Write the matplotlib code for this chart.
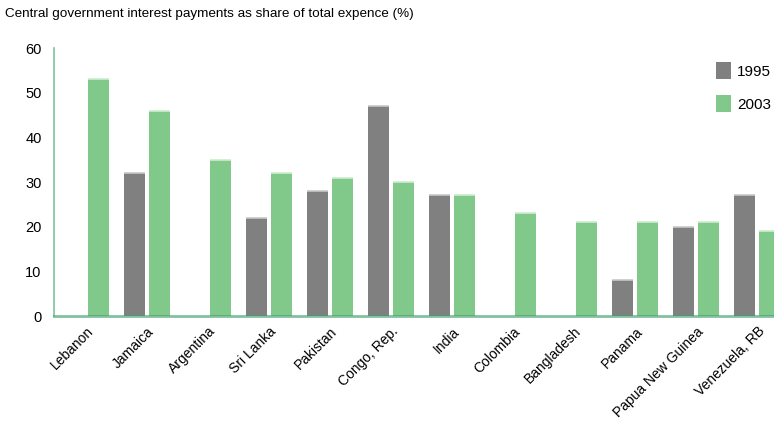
import numpy as np
import matplotlib.pyplot as plt
from matplotlib.patches import Patch

countries = ["Lebanon", "Jamaica", "Argentina", "Sri Lanka", "Pakistan", "Congo, Rep.",
             "India", "Colombia", "Bangladesh", "Panama", "Papua New Guinea", "Venezuela, RB"]
# np.nan where there is no 1995 bar
values_1995 = [np.nan, 32, np.nan, 22, 28, 47, 27, np.nan, np.nan, 8, 20, 27]
values_2003 = [53, 46, 35, 32, 31, 30, 27, 23, 21, 21, 21, 19]
y_ticks = [0, 10, 20, 30, 40, 50, 60]

grey = "#808080"
green = "#80c98b"

plt.rcParams['font.family'] = ['Liberation Sans', 'DejaVu Sans']

fig = plt.figure(figsize=(7.74, 4.28), dpi=100)
# axes runs a little past the right edge of the figure, as in the reference
ax = fig.add_axes([54 / 774, 112 / 428, 740 / 774, 268 / 428])

x = np.arange(len(countries))
w = 0.345
off = 0.205
v95 = np.array(values_1995, dtype=float)
v03 = np.array(values_2003, dtype=float)

ax.bar(x - off, np.nan_to_num(v95), width=w, color=grey, zorder=2)
ax.bar(x + off, v03, width=w, color=green, zorder=2)

# thin light cap on top of every bar
has95 = ~np.isnan(v95)
ax.hlines(v95[has95], x[has95] - off - w / 2, x[has95] - off + w / 2,
          color="#c8c8c8", linewidth=1.2, zorder=3)
ax.hlines(v03, x + off - w / 2, x + off + w / 2,
          color="#cdeccf", linewidth=1.2, zorder=3)

ax.set_xlim(-0.525, 11.6)
ax.set_ylim(0, 60)
ax.set_yticks(y_ticks)
ax.set_yticklabels([str(t) for t in y_ticks], fontsize=10.5)
ax.set_xticks(x)
ax.set_xticklabels(countries, rotation=45, ha="right", rotation_mode="anchor", fontsize=10)
ax.tick_params(axis="both", length=0)
ax.tick_params(axis="y", pad=9)
ax.tick_params(axis="x", pad=6)

for side in ["top", "right"]:
    ax.spines[side].set_visible(False)
ax.spines["left"].set_color("#7cc4a0")
ax.spines["left"].set_linewidth(1.2)
ax.spines["bottom"].set_color("#3f9f6e")
ax.spines["bottom"].set_alpha(0.65)
ax.spines["bottom"].set_linewidth(2)
ax.spines["bottom"].set_zorder(4)

fig.text(5 / 774, 1 - 14 / 428, "Central government interest payments as share of total expence (%)",
         fontsize=9.7, ha="left", va="center")

handles = [Patch(facecolor=grey, label="1995"), Patch(facecolor=green, label="2003")]
fig.legend(handles=handles, loc="upper left", bbox_to_anchor=(702 / 774, 1 - 48 / 428),
           frameon=False, fontsize=11, handlelength=1.0, handleheight=1.4,
           handletextpad=0.4, labelspacing=1.0)

fig.savefig("out.png", dpi=100)
